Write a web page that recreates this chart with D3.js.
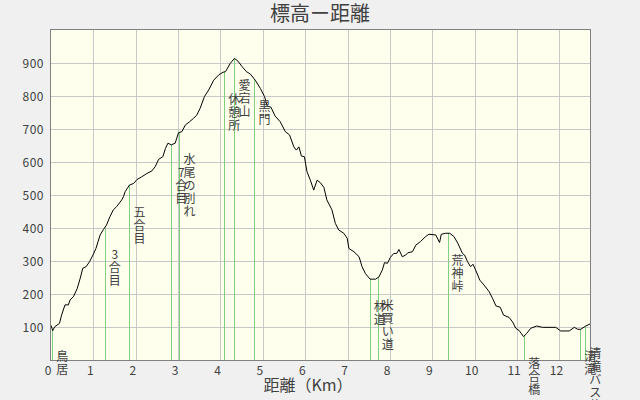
<html>
<head>
<meta charset="utf-8">
<script src="https://d3js.org/d3.v7.min.js"></script>
<style>
body { margin: 0; background: #f0f0f0; }
text { font-family: "Noto Sans CJK JP", "DejaVu Sans", sans-serif; fill: #404040; }
</style>
</head>
<body>
<svg id="svg" width="640" height="400"></svg>
<script>
'use strict';

// profile: distance (km) / elevation (m)
const distKm = [0, 0.04, 0.09, 0.2, 0.25, 0.33, 0.41, 0.45, 0.53, 0.62, 0.69, 0.75, 0.83, 0.91, 0.99,
	1.06, 1.16, 1.24, 1.31, 1.39, 1.47, 1.55, 1.67, 1.71, 1.75, 1.85, 1.95, 2.03, 2.14, 2.26, 2.38,
	2.46, 2.54, 2.64, 2.70, 2.76, 2.84, 2.93, 3.01, 3.09, 3.17, 3.27, 3.36, 3.44, 3.52, 3.62, 3.72,
	3.84, 3.96, 4.06, 4.12, 4.23, 4.33, 4.41, 4.51, 4.61, 4.70, 4.82, 4.94, 5.04, 5.10, 5.19, 5.29,
	5.41, 5.53, 5.63, 5.73, 5.79, 5.85, 5.91, 5.98, 6.04, 6.12, 6.20, 6.28, 6.36, 6.44, 6.51, 6.63,
	6.71, 6.79, 6.91, 6.99, 7.03, 7.15, 7.27, 7.34, 7.42, 7.53, 7.66, 7.74, 7.82, 7.87, 7.94, 8.01,
	8.09, 8.16, 8.21, 8.29, 8.37, 8.42, 8.53, 8.61, 8.72, 8.84, 8.92, 9.08, 9.17, 9.21, 9.31, 9.41,
	9.51, 9.60, 9.71, 9.76, 9.83, 9.90, 9.96, 10.02, 10.12, 10.22, 10.34, 10.42, 10.50, 10.60, 10.68,
	10.81, 10.89, 10.97, 11.05, 11.15, 11.23, 11.32, 11.46, 11.60, 11.80, 11.91, 12.03, 12.23, 12.35,
	12.43, 12.50, 12.62, 12.72];
const elevM = [105, 89, 101, 111, 136, 167, 167, 182, 192, 217, 248, 278, 283, 298, 318,
	338, 379, 396, 409, 434, 455, 465, 485, 495, 510, 530, 535, 547, 555, 565, 573,
	586, 608, 616, 641, 657, 652, 657, 689, 692, 712, 722, 732, 742, 763, 798, 818,
	848, 864, 872, 874, 899, 914, 906, 889, 874, 867, 848, 823, 798, 770, 766, 739,
	722, 692, 682, 646, 636, 646, 618, 616, 571, 545, 515, 545, 537, 523, 485, 455,
	414, 394, 384, 369, 338, 328, 313, 283, 262, 245, 245, 252, 273, 295, 293, 311,
	323, 323, 335, 313, 318, 325, 328, 348, 359, 374, 381, 379, 356, 381, 384, 384,
	374, 354, 323, 318, 298, 283, 290, 273, 242, 227, 207, 187, 164, 160, 136,
	129, 116, 96, 89, 71, 81, 96, 103, 99, 99, 99, 88, 88, 99,
	93, 93, 103, 109];

// waypoints
const pointNames = ['鳥居', '3合目', '五合目', '7合目', '水尾の別れ', '休憩所', '愛宕山', '黒門',
	'林道', '米買い道', '荒神峠', '落合橋', '清滝', '清滝バス停'];
const pointKm = [0.03, 1.27, 1.85, 2.84, 3.03, 4.09, 4.33, 4.80, 7.52, 7.71, 9.36, 11.17, 12.49, 12.61];

const xTicks = [0, 1, 2, 3, 4, 5, 6, 7, 8, 9, 10, 11, 12];
const yTicks = [100, 200, 300, 400, 500, 600, 700, 800, 900];

const plotL = 51, plotR = 590, plotT = 30, plotB = 360;

const profile = distKm.map((d, i) => ({km: d, m: elevM[i]}));

const x = d3.scaleLinear().domain([0, 12.72]).range([plotL, plotR]);
const y = d3.scaleLinear().domain([0, 1000]).range([plotB, plotT]);

function elev_at(km) {
	const i = d3.bisector(d => d.km).left(profile, km);
	if (i <= 0) return profile[0].m;
	if (i >= profile.length) return profile[profile.length - 1].m;
	const a = profile[i - 1], b = profile[i];
	return a.m + (b.m - a.m) * (km - a.km) / (b.km - a.km);
}

const svg = d3.select('#svg');

svg.append('rect')
	.attr('x', plotL).attr('y', plotT)
	.attr('width', plotR - plotL).attr('height', plotB - plotT)
	.attr('fill', '#ffffee');

// grid
svg.append('g')
	.selectAll('line')
	.data(xTicks.slice(1))
	.join('line')
	.attr('x1', d => Math.round(x(d)) + 0.5)
	.attr('x2', d => Math.round(x(d)) + 0.5)
	.attr('y1', plotT).attr('y2', plotB)
	.attr('stroke', '#c8c8c8');

svg.append('g')
	.selectAll('line')
	.data(yTicks)
	.join('line')
	.attr('y1', d => Math.round(y(d)) + 0.5)
	.attr('y2', d => Math.round(y(d)) + 0.5)
	.attr('x1', plotL).attr('x2', plotR)
	.attr('stroke', '#c8c8c8');

// waypoint lines
const points = pointNames.map((n, i) => ({name: n, km: pointKm[i], m: elev_at(pointKm[i])}));

svg.append('g')
	.selectAll('line')
	.data(points)
	.join('line')
	.attr('x1', d => Math.round(x(d.km)) + 0.5)
	.attr('x2', d => Math.round(x(d.km)) + 0.5)
	.attr('y1', d => y(d.m))
	.attr('y2', plotB)
	.attr('stroke', '#80d080');

// profile line
svg.append('path')
	.datum(profile)
	.attr('fill', 'none')
	.attr('stroke', '#000')
	.attr('stroke-width', 1)
	.attr('d', d3.line().x(d => x(d.km)).y(d => y(d.m)));

// border
svg.append('rect')
	.attr('x', plotL - 0.5).attr('y', plotT - 0.5)
	.attr('width', plotR - plotL + 1).attr('height', plotB - plotT + 1)
	.attr('fill', 'none')
	.attr('stroke', '#808080');

// waypoint labels, one character per row
svg.append('g')
	.selectAll('text')
	.data(points)
	.join('text')
	.attr('font-size', 12)
	.attr('text-anchor', 'middle')
	.each(function(d) {
		const t = d3.select(this);
		const cx = x(d.km) + 10;
		const y0 = y(d.m) + 32;
		Array.from(d.name).forEach((c, i) => {
			t.append('tspan').attr('x', cx).attr('y', y0 + i * 13).text(c);
		});
	});

// tick labels
svg.append('g')
	.selectAll('text')
	.data(xTicks)
	.join('text')
	.attr('x', d => x(d) - 3)
	.attr('y', 375)
	.attr('font-size', 12)
	.attr('text-anchor', 'middle')
	.text(d => d);

svg.append('g')
	.selectAll('text')
	.data(yTicks)
	.join('text')
	.attr('x', 44)
	.attr('y', d => y(d) + 4.5)
	.attr('font-size', 12)
	.attr('letter-spacing', 0.5)
	.attr('text-anchor', 'end')
	.text(d => d);

// titles
svg.append('text')
	.attr('x', 320).attr('y', 21)
	.attr('font-size', 20)
	.attr('text-anchor', 'middle')
	.text('標高ー距離');

svg.append('text')
	.attr('x', 308).attr('y', 391)
	.attr('font-size', 16)
	.attr('text-anchor', 'middle')
	.text('距離（Km）');
</script>
</body>
</html>
